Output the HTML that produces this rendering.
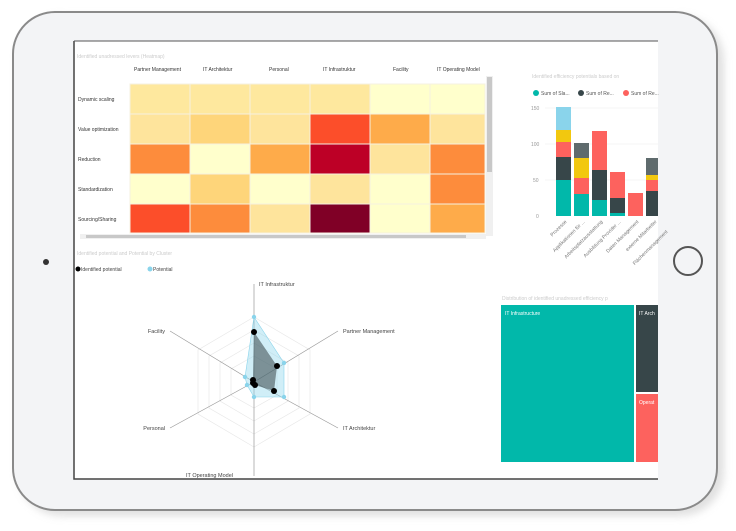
<!DOCTYPE html>
<html><head><meta charset="utf-8"><style>
body{margin:0;width:736px;height:526px;background:#fff;overflow:hidden;font-family:"Liberation Sans",sans-serif}
</style></head><body>
<svg width="736" height="526" viewBox="0 0 736 526" xmlns="http://www.w3.org/2000/svg" font-family="Liberation Sans, sans-serif">
<defs><filter id="sh" x="-10%" y="-10%" width="120%" height="120%"><feGaussianBlur stdDeviation="4"/></filter></defs>
<rect x="18" y="16" width="706" height="500" rx="44" fill="#ccc" filter="url(#sh)" opacity="0.6"/>
<rect x="13" y="12" width="704" height="498" rx="42" fill="#f3f4f6" stroke="#8a8a8a" stroke-width="2"/>
<circle cx="46" cy="262" r="3" fill="#333"/>
<circle cx="688" cy="261" r="14" fill="none" stroke="#555" stroke-width="2"/>
<rect x="74" y="41" width="584" height="438" fill="#fff"/>
<path d="M74 41V479H658" fill="none" stroke="#444" stroke-width="1.5"/>
<line x1="74" y1="41" x2="658" y2="41" stroke="#555"/>
<g font-size="5" fill="#333">
<text x="77" y="58" fill="#ccc">Identified unadressed levers (Heatmap)</text>
<text x="134" y="71">Partner Management</text><text x="203" y="71">IT Architektur</text><text x="269" y="71">Personal</text><text x="323" y="71">IT Infrastruktur</text><text x="393" y="71">Facility</text><text x="437" y="71">IT Operating Model</text>
<text x="78" y="101">Dynamic scaling</text><text x="78" y="131">Value optimization</text><text x="78" y="161">Reduction</text><text x="78" y="191">Standardization</text><text x="78" y="221">Sourcing/Sharing</text>
</g>
<g stroke="#f5f0e0" stroke-width="1">
<rect x="130" y="84" width="60" height="30" fill="#fee89e"/><rect x="190" y="84" width="60" height="30" fill="#fee89e"/><rect x="250" y="84" width="60" height="30" fill="#fee89e"/><rect x="310" y="84" width="60" height="30" fill="#fee89e"/><rect x="370" y="84" width="60" height="30" fill="#ffffcc"/><rect x="430" y="84" width="55" height="30" fill="#ffffcc"/>
<rect x="130" y="114" width="60" height="30" fill="#fee49c"/><rect x="190" y="114" width="60" height="30" fill="#fed57a"/><rect x="250" y="114" width="60" height="30" fill="#fee49c"/><rect x="310" y="114" width="60" height="30" fill="#fc4e2a"/><rect x="370" y="114" width="60" height="30" fill="#feab4a"/><rect x="430" y="114" width="55" height="30" fill="#fee49c"/>
<rect x="130" y="144" width="60" height="30" fill="#fd8c3c"/><rect x="190" y="144" width="60" height="30" fill="#ffffcc"/><rect x="250" y="144" width="60" height="30" fill="#feab4a"/><rect x="310" y="144" width="60" height="30" fill="#bd0026"/><rect x="370" y="144" width="60" height="30" fill="#fee49c"/><rect x="430" y="144" width="55" height="30" fill="#fd8c3c"/>
<rect x="130" y="174" width="60" height="30" fill="#ffffcc"/><rect x="190" y="174" width="60" height="30" fill="#fed57a"/><rect x="250" y="174" width="60" height="30" fill="#ffffcc"/><rect x="310" y="174" width="60" height="30" fill="#fee49c"/><rect x="370" y="174" width="60" height="30" fill="#ffffcc"/><rect x="430" y="174" width="55" height="30" fill="#fd8c3c"/>
<rect x="130" y="204" width="60" height="29" fill="#fc4e2a"/><rect x="190" y="204" width="60" height="29" fill="#fd8c3c"/><rect x="250" y="204" width="60" height="29" fill="#fee49c"/><rect x="310" y="204" width="60" height="29" fill="#800026"/><rect x="370" y="204" width="60" height="29" fill="#ffffcc"/><rect x="430" y="204" width="55" height="29" fill="#feab4a"/>
</g>
<rect x="486" y="76" width="7" height="160" fill="#f0f0f0"/><rect x="487" y="77" width="5" height="95" fill="#c8c8c8"/>
<rect x="80" y="234" width="406" height="5" fill="#f0f0f0"/><rect x="86" y="235" width="380" height="3" fill="#c8c8c8"/>
<g font-size="5" fill="#999">
<text x="532" y="78" fill="#ccc">Identified efficiency potentials based on</text>
<text x="531" y="110">150</text><text x="531" y="146">100</text><text x="533" y="182">50</text><text x="536" y="218">0</text>
</g>
<g stroke="#eee" stroke-width="0.6"><line x1="545" y1="108" x2="658" y2="108"/><line x1="545" y1="144" x2="658" y2="144"/><line x1="545" y1="180" x2="658" y2="180"/></g>
<g font-size="5" fill="#555">
<circle cx="536" cy="93" r="3" fill="#01b8aa"/><text x="541" y="95">Sum of Sla...</text>
<circle cx="581" cy="93" r="3" fill="#374649"/><text x="586" y="95">Sum of Re...</text>
<circle cx="626" cy="93" r="3" fill="#fd625e"/><text x="631" y="95">Sum of Re...</text>
</g>
<g>
<rect x="556" y="180" width="15" height="36" fill="#01b8aa"/><rect x="556" y="157" width="15" height="23" fill="#374649"/><rect x="556" y="142" width="15" height="15" fill="#fd625e"/><rect x="556" y="130" width="15" height="12" fill="#f2c80f"/><rect x="556" y="107" width="15" height="23" fill="#8ad4eb"/>
<rect x="574" y="194" width="15" height="22" fill="#01b8aa"/><rect x="574" y="178" width="15" height="16" fill="#fd625e"/><rect x="574" y="158" width="15" height="20" fill="#f2c80f"/><rect x="574" y="143" width="15" height="15" fill="#5f6b6d"/>
<rect x="592" y="200" width="15" height="16" fill="#01b8aa"/><rect x="592" y="170" width="15" height="30" fill="#374649"/><rect x="592" y="131" width="15" height="39" fill="#fd625e"/>
<rect x="610" y="213" width="15" height="3" fill="#01b8aa"/><rect x="610" y="198" width="15" height="15" fill="#374649"/><rect x="610" y="172" width="15" height="26" fill="#fd625e"/>
<rect x="628" y="193" width="15" height="23" fill="#fd625e"/>
<rect x="646" y="191" width="12" height="25" fill="#374649"/><rect x="646" y="180" width="12" height="11" fill="#fd625e"/><rect x="646" y="175" width="12" height="5" fill="#f2c80f"/><rect x="646" y="158" width="12" height="17" fill="#5f6b6d"/>
</g>
<g font-size="5" fill="#777">
<text transform="translate(567,222) rotate(-45)" text-anchor="end">Prozesse</text>
<text transform="translate(585,222) rotate(-45)" text-anchor="end">Applikationen für ...</text>
<text transform="translate(603,222) rotate(-45)" text-anchor="end">Arbeitsplatzausstattung</text>
<text transform="translate(621,222) rotate(-45)" text-anchor="end">Ausbildung Provider ...</text>
<text transform="translate(639,222) rotate(-45)" text-anchor="end">Daten Management</text>
<text transform="translate(657,222) rotate(-45)" text-anchor="end">externe Mitarbeiter</text>
<text transform="translate(668,232) rotate(-45)" text-anchor="end">Flächenmanagement</text>
</g>
<text x="77" y="255" font-size="5" fill="#ccc">Identified potential and Potential by Cluster</text>
<g font-size="5" fill="#444">
<circle cx="78" cy="269" r="2.5" fill="#000"/><text x="81" y="271">Identified potential</text>
<circle cx="150" cy="269" r="2.5" fill="#8ad4eb"/><text x="153" y="271">Potential</text>
</g>
<g fill="none" stroke="#e8e8e8" stroke-width="0.7">
<polygon points="254,317 310,350 310,414 254,447 198,414 198,350"/>
<polygon points="254,330 299,356 299,408 254,434 209,408 209,356"/>
<polygon points="254,343 288,363 288,401 254,421 220,401 220,363"/>
<polygon points="254,356 277,369 277,395 254,408 231,395 231,369"/>
</g>
<g stroke="#999" stroke-width="0.7">
<line x1="254" y1="382" x2="254" y2="284"/><line x1="254" y1="382" x2="338" y2="331"/><line x1="254" y1="382" x2="338" y2="428"/><line x1="254" y1="382" x2="254" y2="476"/><line x1="254" y1="382" x2="170" y2="428"/><line x1="254" y1="382" x2="170" y2="331"/>
</g>
<polygon points="254,317 284,363 284,397 254,397 247,385 245,377" fill="#8ad4eb" fill-opacity="0.4" stroke="#8ad4eb" stroke-width="0.6"/>
<polygon points="254,332 277,366 274,391 255,385 253,384 253,380" fill="#374649" fill-opacity="0.55"/>
<g fill="#8ad4eb"><circle cx="254" cy="317" r="2.2"/><circle cx="284" cy="363" r="2.2"/><circle cx="284" cy="397" r="2.2"/><circle cx="254" cy="397" r="2.2"/><circle cx="247" cy="385" r="2.2"/><circle cx="245" cy="377" r="2.2"/></g>
<g fill="#000"><circle cx="254" cy="332" r="3"/><circle cx="277" cy="366" r="3"/><circle cx="274" cy="391" r="3"/><circle cx="255" cy="385" r="3"/><circle cx="253" cy="383" r="3"/><circle cx="253" cy="380" r="3"/></g>
<g font-size="5.5" fill="#444">
<text x="259" y="286">IT Infrastruktur</text><text x="343" y="333">Partner Management</text><text x="343" y="430">IT Architektur</text>
<text x="186" y="477">IT Operating Model</text><text x="165" y="430" text-anchor="end">Personal</text><text x="165" y="333" text-anchor="end">Facility</text>
</g>
<text x="502" y="300" font-size="5" fill="#ccc">Distribution of identified unadressed efficiency p</text>
<rect x="501" y="305" width="133" height="157" fill="#01b8aa"/>
<rect x="636" y="305" width="22" height="87" fill="#374649"/>
<rect x="636" y="394" width="22" height="68" fill="#fd625e"/>
<g font-size="5" fill="#fff"><text x="505" y="315">IT Infrastructure</text><text x="639" y="315">IT Arch</text><text x="639" y="404">Operat</text></g>
</svg>
</body></html>
